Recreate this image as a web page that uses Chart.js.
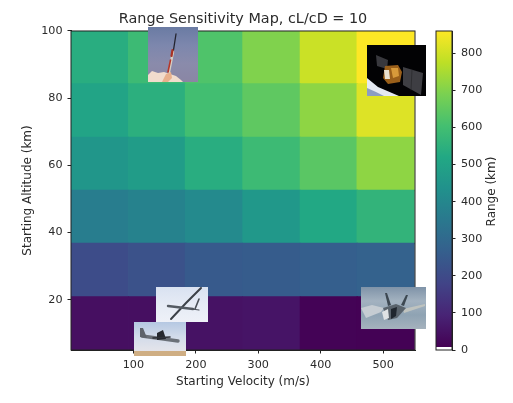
<!DOCTYPE html>
<html><head><meta charset="utf-8">
<script src="https://cdn.jsdelivr.net/npm/chart.js@4"></script>
<style>html,body{margin:0;padding:0;background:#fff}#w{position:relative;width:513px;height:403px}canvas{position:absolute;left:0;top:0}</style>
</head><body><div id="w"><canvas id="c1" width="513" height="403"></canvas><canvas id="c2" width="513" height="403"></canvas></div>
<script>
const chartTitle = "Range Sensitivity Map, cL/cD = 10";
const xLabel = "Starting Velocity (m/s)";
const yLabel = "Starting Altitude (km)";
const cbLabel = "Range (km)";
const velocityCenters = [46, 138, 229, 321, 413, 504];
const altitudeEdges = [5, 20.8, 36.7, 52.5, 68.3, 84.2, 100];
const rangeRow1 = [43, 43, 50, 55, 14, 12];
const rangeRow2 = [205, 222, 247, 256, 264, 273];
const rangeRow3 = [366, 383, 409, 460, 520, 562];
const rangeRow4 = [452, 477, 537, 588, 639, 715];
const rangeRow5 = [503, 545, 600, 647, 715, 817];
const rangeRow6 = [537, 588, 622, 698, 792, 860];
const rangeRows = [rangeRow1, rangeRow2, rangeRow3, rangeRow4, rangeRow5, rangeRow6];
const xTicks = [100, 200, 300, 400, 500];
const yTicks = [20, 40, 60, 80, 100];
const cbTicks = [0, 100, 200, 300, 400, 500, 600, 700, 800];
const rangeMin = 9, rangeMax = 860;
const viridis = ["#440154","#482475","#414487","#355f8d","#2a788e","#21918c","#22a884","#44bf70","#7ad151","#bddf26","#fde725"];

function hex(c){return [1,3,5].map(i=>parseInt(c.substr(i,2),16));}
function colorOf(v){
  const t=Math.min(1,Math.max(0,(v-rangeMin)/(rangeMax-rangeMin)))*(viridis.length-1);
  const i=Math.min(viridis.length-2,Math.floor(t)),f=t-i,a=hex(viridis[i]),b=hex(viridis[i+1]);
  return `rgb(${a.map((x,k)=>Math.round(x+(b[k]-x)*f)).join(",")})`;
}
const font={family:"'DejaVu Sans'",size:11.2};
const labelFont={family:"'DejaVu Sans'",size:12};
const ink="#2b2b2b";

function poly(g,color,pts){g.fillStyle=color;g.beginPath();pts.forEach((p,i)=>i?g.lineTo(p[0],p[1]):g.moveTo(p[0],p[1]));g.closePath();g.fill();}
function line(g,color,w,pts){g.strokeStyle=color;g.lineWidth=w;g.lineCap="round";g.beginPath();pts.forEach((p,i)=>i?g.lineTo(p[0],p[1]):g.moveTo(p[0],p[1]));g.stroke();}
function grad(g,x,y,w,h,stops){const l=g.createLinearGradient(0,y,0,y+h);stops.forEach((s,i)=>l.addColorStop(i/(stops.length-1),s));g.fillStyle=l;g.fillRect(x,y,w,h);}

const thumbs={
 rocket(g){
  grad(g,148,27,50,55,["#6a7ba3","#7d87ad","#8a8bab","#8a86a4"]);
  poly(g,"#f1dccd",[[148,75],[152,71],[158,73],[164,72],[170,74],[176,76],[181,80],[183,82],[148,82]]);
  poly(g,"#e8b08c",[[166,74],[171,72],[172,78],[168,82],[162,82]]);
  line(g,"#23232e",1.3,[[176,34],[173.5,50]]);
  line(g,"#d8cfc2",2.4,[[173,52],[169,72]]);
  line(g,"#a93326",2.2,[[172.5,50],[171.5,56]]);
  line(g,"#b5372a",1.6,[[170.5,60],[168,72]]);
 },
 satellite(g){
  g.fillStyle="#020204";g.fillRect(367,45,59,51);
  poly(g,"#e4e9f2",[[367,78],[378,87],[399,96],[367,96]]);
  poly(g,"#8b9dc2",[[367,88],[376,92],[384,96],[367,96]]);
  poly(g,"#38383d",[[376,55],[388,60],[387,69],[377,66]]);
  poly(g,"#3e3e43",[[403,67],[423,73],[421,95],[403,85]]);
  line(g,"#26262a",0.7,[[412,70],[411,90]]);
  poly(g,"#9a5f1a",[[385,66],[398,65],[402,72],[400,82],[388,84],[383,78]]);
  poly(g,"#d89a3a",[[391,68],[398,68],[399,76],[393,78]]);
  poly(g,"#e8e0d0",[[384,70],[389,70],[390,79],[385,79]]);
 },
 reaper(g){
  grad(g,156,287,52,35,["#d9e2f1","#e6ebf5","#eef1f8"]);
  line(g,"#3c4148",2,[[201,288],[186,303],[171,319]]);
  line(g,"#555b63",2.4,[[168,306],[193,309]]);
  line(g,"#4a4f57",1.6,[[199,299],[195,309]]);
  line(g,"#4a4f57",1.2,[[192,309],[199,310]]);
 },
 hercules(g){
  grad(g,134,322,52,29,["#b5c8e2","#d2dbea","#e4e4ea"]);
  g.fillStyle="#cfae83";g.fillRect(134,351,52,5);
  line(g,"#6b7078",3.4,[[142,336],[178,341]]);
  poly(g,"#5e636b",[[140,328],[143,328],[147,338],[140,337]]);
  poly(g,"#26292f",[[157,333],[163,330],[166,339],[157,340]]);
  line(g,"#2e3138",1.6,[[153,338],[170,337]]);
 },
 jet(g){
  grad(g,361,287,65,42,["#7f93a8","#a3b2c0","#8fa3b3","#a5b2bd"]);
  poly(g,"#c5ccd2",[[361,308],[372,305],[384,308],[381,312],[366,318]]);
  poly(g,"#bfc3bf",[[403,309],[425,304],[425,306],[404,313]]);
  poly(g,"#3d4852",[[385,293],[387,293],[391,305],[388,306]]);
  poly(g,"#3d4852",[[406,295],[408,295],[404,306],[401,305]]);
  poly(g,"#59636c",[[383,308],[396,304],[406,308],[397,318],[388,320]]);
  poly(g,"#1f262e",[[391,309],[397,307],[396,316],[391,319]]);
  poly(g,"#dfe3e5",[[382,312],[388,309],[389,318],[384,320]]);
 }
};
const frame=(color)=>({afterDraw(ch){const g=ch.ctx,a=ch.chartArea;g.save();g.strokeStyle=color;g.lineWidth=1;g.strokeRect(a.left,a.top,a.right-a.left,a.bottom-a.top);g.restore();}});
const axisGrid={offset:false,drawOnChartArea:false,color:"#222",tickLength:3.5};

new Chart(document.getElementById("c1"),{
 type:"bar",
 data:{datasets:rangeRows.map((row,r)=>({
   grouped:false,barPercentage:1,categoryPercentage:1,borderWidth:0,inflateAmount:0.7,
   data:row.map((v,c)=>({x:velocityCenters[c],y:[altitudeEdges[r],altitudeEdges[r+1]]})),
   backgroundColor:row.map(colorOf)
 }))},
 options:{
  responsive:false,animation:false,devicePixelRatio:1,
  layout:{padding:{left:0,right:98,top:0,bottom:0}},
  plugins:{legend:{display:false},tooltip:{enabled:false},
   title:{display:true,text:chartTitle,fullSize:false,color:ink,font:{family:font.family,size:14.4,weight:"normal"},padding:{top:10.5,bottom:3.2}}},
  scales:{
   x:{type:"linear",min:0,max:551,offset:false,
      afterBuildTicks(s){s.ticks=xTicks.map(v=>({value:v}));},
      afterFit(s){s.height=53;},
      grid:axisGrid,border:{color:"#222"},
      ticks:{color:ink,font,padding:4.5,maxRotation:0},
      title:{display:true,text:xLabel,color:ink,font:labelFont,padding:{top:1,bottom:14}}},
   y:{type:"linear",min:5,max:100,
      afterBuildTicks(s){s.ticks=yTicks.map(v=>({value:v}));},
      afterFit(s){s.width=71;},
      grid:axisGrid,border:{color:"#222"},
      ticks:{color:ink,font,padding:5},
      title:{display:true,text:yLabel,color:ink,font:labelFont,padding:{top:21,bottom:0}}}
  }
 },
 plugins:[frame("#222"),{afterDraw(ch){const g=ch.ctx;g.save();Object.values(thumbs).forEach(f=>f(g));g.restore();}}]
});

new Chart(document.getElementById("c2"),{
 type:"bar",
 data:{labels:[cbLabel],datasets:[{data:[[rangeMin,rangeMax]],barPercentage:1,categoryPercentage:1,borderWidth:0,
   backgroundColor(ctx){const a=ctx.chart.chartArea;if(!a)return viridis[0];
     const s=ctx.chart.scales.y,l=ctx.chart.ctx.createLinearGradient(0,s.getPixelForValue(rangeMin),0,s.getPixelForValue(rangeMax));
     viridis.forEach((c,i)=>l.addColorStop(i/(viridis.length-1),c));return l;}}]},
 options:{
  responsive:false,animation:false,devicePixelRatio:1,
  layout:{padding:{left:436,right:0,top:31,bottom:53}},
  plugins:{legend:{display:false},tooltip:{enabled:false}},
  scales:{
   x:{display:false},
   y:{type:"linear",position:"right",min:0,max:860,
      afterBuildTicks(s){s.ticks=cbTicks.map(v=>({value:v}));},
      afterFit(s){s.width=61;},
      grid:axisGrid,border:{color:"#222"},
      ticks:{color:ink,font,padding:5.5}}
  }
 },
 plugins:[frame("#222"),{afterDraw(ch){const g=ch.ctx;g.save();g.translate(492,191.5);g.rotate(-Math.PI/2);g.fillStyle=ink;g.font="12px 'DejaVu Sans'";g.textAlign="center";g.textBaseline="middle";g.fillText(cbLabel,0,0);g.restore();}}]
});
</script></body></html>
